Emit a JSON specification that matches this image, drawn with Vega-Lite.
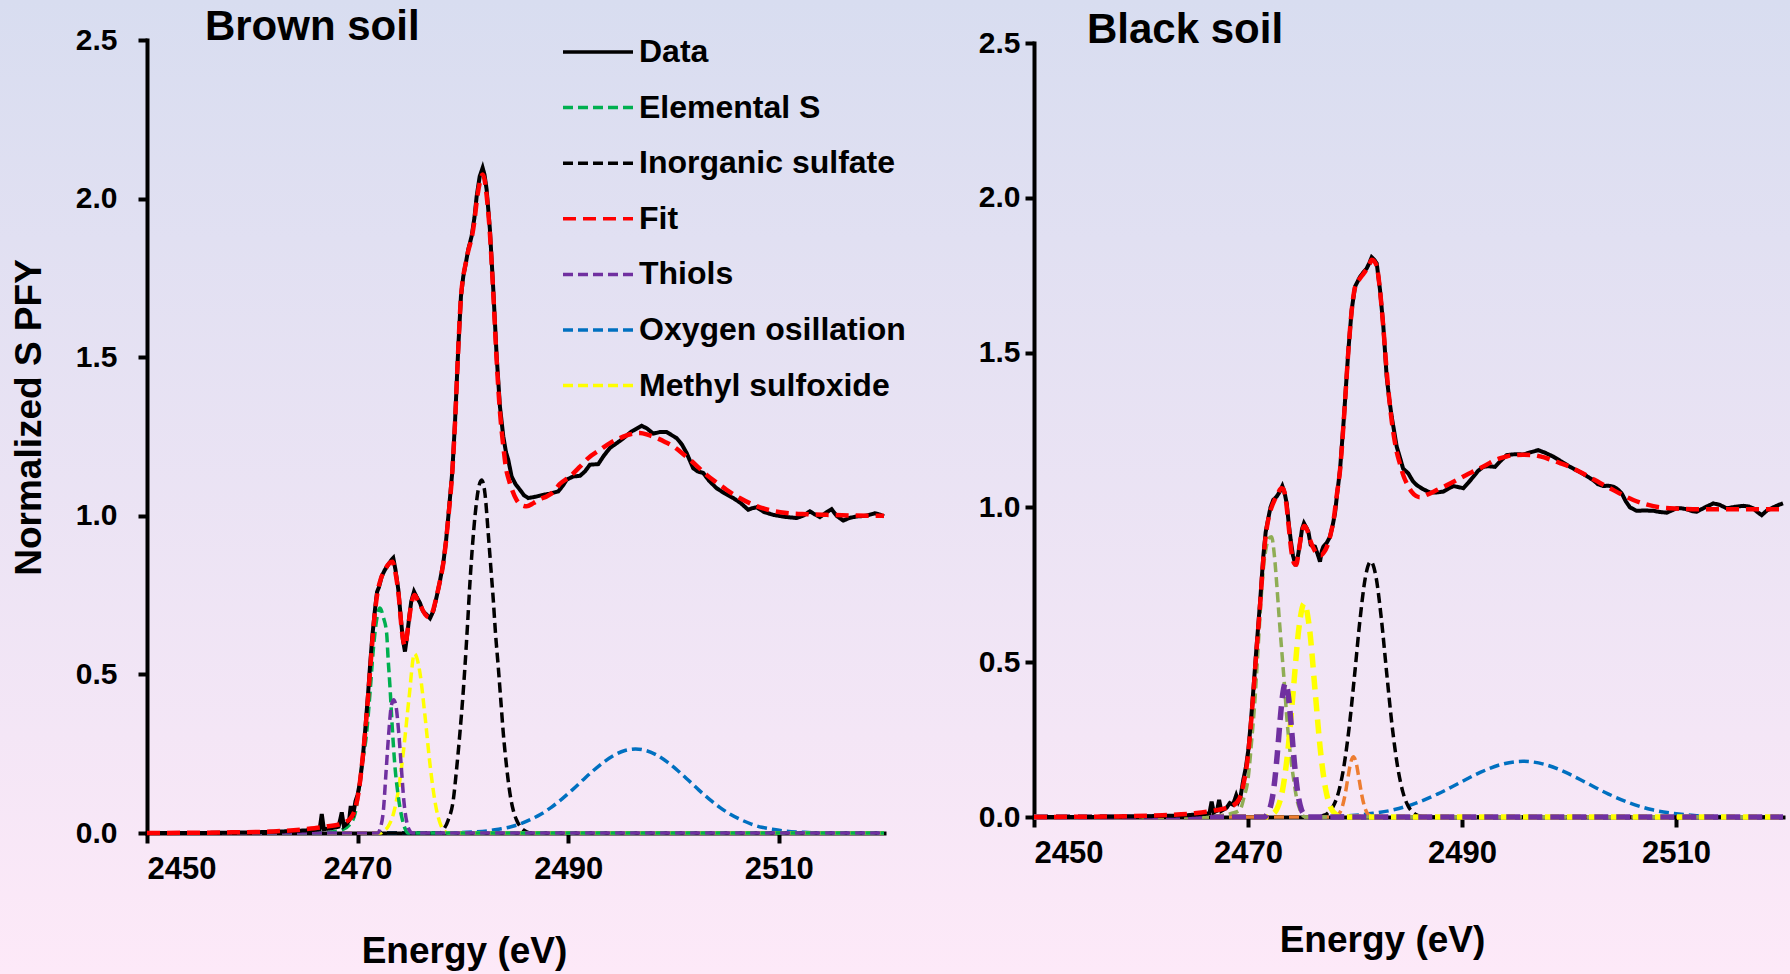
{
  "$schema": "https://vega.github.io/schema/vega-lite/v6.json",
  "width": 1790,
  "height": 974,
  "autosize": {"type": "none"},
  "padding": 0,
  "background": "#ebe3f4",
  "view": {
    "stroke": null,
    "fill": {"gradient": "linear", "x1": 0, "y1": 0, "x2": 0, "y2": 1,
      "stops": [{"offset": 0, "color": "#d8ddf0"}, {"offset": 1, "color": "#fde9f8"}]}
  },
  "config": {
    "font": "Liberation Sans",
    "axis": {
      "grid": false, "domainColor": "#000000", "domainWidth": 4, "domainCap": "square",
      "tickColor": "#000000", "tickWidth": 4, "labelColor": "#000000", "labelFontWeight": "bold",
      "titleColor": "#000000", "titleFontWeight": "bold", "titleFontSize": 37, "labelFont": "Liberation Sans", "titleFont": "Liberation Sans"
    },
    "text": {"font": "Liberation Sans"}
  },
  "datasets": {
    "brown": [
      {"s":"Data","e":2450,"v":0},{"s":"Data","e":2455,"v":0},{"s":"Data","e":2460,"v":0.002},{"s":"Data","e":2463,"v":0.005},{"s":"Data","e":2465,"v":0.008},{"s":"Data","e":2466,"v":0.01},{"s":"Data","e":2466.4,"v":0.012},{"s":"Data","e":2466.6,"v":0.06},{"s":"Data","e":2466.8,"v":0.012},{"s":"Data","e":2467.5,"v":0.015},{"s":"Data","e":2468.2,"v":0.02},{"s":"Data","e":2468.5,"v":0.065},{"s":"Data","e":2468.7,"v":0.022},{"s":"Data","e":2469.0,"v":0.03},{"s":"Data","e":2469.2,"v":0.04},{"s":"Data","e":2469.35,"v":0.085},{"s":"Data","e":2469.55,"v":0.05},{"s":"Data","e":2469.8,"v":0.1},{"s":"Data","e":2470.0,"v":0.12},{"s":"Data","e":2470.23,"v":0.16},{"s":"Data","e":2470.5,"v":0.24},{"s":"Data","e":2470.7,"v":0.314},{"s":"Data","e":2471.0,"v":0.44},{"s":"Data","e":2471.18,"v":0.525},{"s":"Data","e":2471.4,"v":0.62},{"s":"Data","e":2471.65,"v":0.703},{"s":"Data","e":2471.85,"v":0.76},{"s":"Data","e":2472.03,"v":0.775},{"s":"Data","e":2472.3,"v":0.81},{"s":"Data","e":2472.6,"v":0.83},{"s":"Data","e":2472.9,"v":0.845},{"s":"Data","e":2473.2,"v":0.86},{"s":"Data","e":2473.39,"v":0.867},{"s":"Data","e":2473.6,"v":0.83},{"s":"Data","e":2473.87,"v":0.767},{"s":"Data","e":2474.1,"v":0.68},{"s":"Data","e":2474.3,"v":0.61},{"s":"Data","e":2474.5,"v":0.572},{"s":"Data","e":2474.7,"v":0.62},{"s":"Data","e":2474.91,"v":0.682},{"s":"Data","e":2475.1,"v":0.73},{"s":"Data","e":2475.36,"v":0.761},{"s":"Data","e":2475.6,"v":0.745},{"s":"Data","e":2475.93,"v":0.725},{"s":"Data","e":2476.2,"v":0.7},{"s":"Data","e":2476.56,"v":0.688},{"s":"Data","e":2476.88,"v":0.677},{"s":"Data","e":2477.2,"v":0.7},{"s":"Data","e":2477.51,"v":0.745},{"s":"Data","e":2477.8,"v":0.79},{"s":"Data","e":2478.14,"v":0.851},{"s":"Data","e":2478.4,"v":0.92},{"s":"Data","e":2478.62,"v":0.998},{"s":"Data","e":2479.0,"v":1.14},{"s":"Data","e":2479.25,"v":1.292},{"s":"Data","e":2479.57,"v":1.534},{"s":"Data","e":2479.82,"v":1.692},{"s":"Data","e":2480.04,"v":1.755},{"s":"Data","e":2480.3,"v":1.8},{"s":"Data","e":2480.51,"v":1.839},{"s":"Data","e":2480.83,"v":1.881},{"s":"Data","e":2481.1,"v":1.94},{"s":"Data","e":2481.31,"v":2.007},{"s":"Data","e":2481.6,"v":2.07},{"s":"Data","e":2481.88,"v":2.097},{"s":"Data","e":2482.06,"v":2.075},{"s":"Data","e":2482.26,"v":2.028},{"s":"Data","e":2482.57,"v":1.902},{"s":"Data","e":2482.89,"v":1.713},{"s":"Data","e":2483.21,"v":1.503},{"s":"Data","e":2483.52,"v":1.345},{"s":"Data","e":2483.84,"v":1.25},{"s":"Data","e":2484.1,"v":1.2},{"s":"Data","e":2484.31,"v":1.177},{"s":"Data","e":2484.63,"v":1.124},{"s":"Data","e":2485.0,"v":1.1},{"s":"Data","e":2485.42,"v":1.082},{"s":"Data","e":2485.8,"v":1.065},{"s":"Data","e":2486.21,"v":1.056},{"s":"Data","e":2486.9,"v":1.06},{"s":"Data","e":2487.63,"v":1.066},{"s":"Data","e":2488.3,"v":1.07},{"s":"Data","e":2489.06,"v":1.077},{"s":"Data","e":2489.5,"v":1.095},{"s":"Data","e":2489.86,"v":1.114},{"s":"Data","e":2490.49,"v":1.124},{"s":"Data","e":2491.12,"v":1.126},{"s":"Data","e":2491.6,"v":1.14},{"s":"Data","e":2492.07,"v":1.161},{"s":"Data","e":2492.86,"v":1.163},{"s":"Data","e":2493.4,"v":1.19},{"s":"Data","e":2493.97,"v":1.214},{"s":"Data","e":2495.08,"v":1.24},{"s":"Data","e":2496.03,"v":1.266},{"s":"Data","e":2496.98,"v":1.284},{"s":"Data","e":2497.5,"v":1.275},{"s":"Data","e":2498.08,"v":1.259},{"s":"Data","e":2498.7,"v":1.264},{"s":"Data","e":2499.35,"v":1.264},{"s":"Data","e":2500.3,"v":1.245},{"s":"Data","e":2500.8,"v":1.225},{"s":"Data","e":2501.25,"v":1.198},{"s":"Data","e":2501.88,"v":1.15},{"s":"Data","e":2502.3,"v":1.14},{"s":"Data","e":2502.83,"v":1.135},{"s":"Data","e":2503.4,"v":1.11},{"s":"Data","e":2504.1,"v":1.087},{"s":"Data","e":2504.9,"v":1.07},{"s":"Data","e":2505.68,"v":1.056},{"s":"Data","e":2506.4,"v":1.04},{"s":"Data","e":2507.1,"v":1.019},{"s":"Data","e":2507.5,"v":1.024},{"s":"Data","e":2507.9,"v":1.027},{"s":"Data","e":2508.6,"v":1.012},{"s":"Data","e":2509.48,"v":1.003},{"s":"Data","e":2510.5,"v":0.997},{"s":"Data","e":2511.7,"v":0.993},{"s":"Data","e":2512.3,"v":1.0},{"s":"Data","e":2512.96,"v":1.014},{"s":"Data","e":2513.4,"v":1.005},{"s":"Data","e":2513.91,"v":0.996},{"s":"Data","e":2514.5,"v":1.01},{"s":"Data","e":2515.02,"v":1.021},{"s":"Data","e":2515.5,"v":1.0},{"s":"Data","e":2516.13,"v":0.985},{"s":"Data","e":2516.7,"v":0.993},{"s":"Data","e":2517.4,"v":0.998},{"s":"Data","e":2518.3,"v":1.0},{"s":"Data","e":2519.13,"v":1.008},{"s":"Data","e":2519.6,"v":1.004},{"s":"Data","e":2520,"v":0.998},

      {"s":"Fit","e":2450,"v":0},{"s":"Fit","e":2458,"v":0.002},{"s":"Fit","e":2462,"v":0.005},{"s":"Fit","e":2465,"v":0.012},{"s":"Fit","e":2467,"v":0.02},{"s":"Fit","e":2468.5,"v":0.03},{"s":"Fit","e":2469.3,"v":0.045},{"s":"Fit","e":2469.8,"v":0.08},{"s":"Fit","e":2470.1,"v":0.13},{"s":"Fit","e":2470.4,"v":0.21},{"s":"Fit","e":2470.7,"v":0.31},{"s":"Fit","e":2471.0,"v":0.43},{"s":"Fit","e":2471.3,"v":0.56},{"s":"Fit","e":2471.6,"v":0.68},{"s":"Fit","e":2471.9,"v":0.76},{"s":"Fit","e":2472.2,"v":0.8},{"s":"Fit","e":2472.6,"v":0.83},{"s":"Fit","e":2473.0,"v":0.85},{"s":"Fit","e":2473.3,"v":0.855},{"s":"Fit","e":2473.6,"v":0.82},{"s":"Fit","e":2473.9,"v":0.75},{"s":"Fit","e":2474.2,"v":0.64},{"s":"Fit","e":2474.5,"v":0.59},{"s":"Fit","e":2474.8,"v":0.65},{"s":"Fit","e":2475.1,"v":0.72},{"s":"Fit","e":2475.4,"v":0.75},{"s":"Fit","e":2475.7,"v":0.735},{"s":"Fit","e":2476.0,"v":0.715},{"s":"Fit","e":2476.4,"v":0.69},{"s":"Fit","e":2476.8,"v":0.68},{"s":"Fit","e":2477.2,"v":0.705},{"s":"Fit","e":2477.5,"v":0.745},{"s":"Fit","e":2477.8,"v":0.79},{"s":"Fit","e":2478.14,"v":0.85},{"s":"Fit","e":2478.4,"v":0.92},{"s":"Fit","e":2478.62,"v":0.995},{"s":"Fit","e":2479.0,"v":1.14},{"s":"Fit","e":2479.25,"v":1.29},{"s":"Fit","e":2479.57,"v":1.53},{"s":"Fit","e":2479.82,"v":1.69},{"s":"Fit","e":2480.04,"v":1.755},{"s":"Fit","e":2480.3,"v":1.8},{"s":"Fit","e":2480.51,"v":1.835},{"s":"Fit","e":2480.83,"v":1.875},{"s":"Fit","e":2481.1,"v":1.93},{"s":"Fit","e":2481.31,"v":1.99},{"s":"Fit","e":2481.6,"v":2.05},{"s":"Fit","e":2481.88,"v":2.076},{"s":"Fit","e":2482.06,"v":2.06},{"s":"Fit","e":2482.26,"v":2.01},{"s":"Fit","e":2482.57,"v":1.89},{"s":"Fit","e":2482.89,"v":1.7},{"s":"Fit","e":2483.21,"v":1.49},{"s":"Fit","e":2483.52,"v":1.33},{"s":"Fit","e":2483.84,"v":1.22},{"s":"Fit","e":2484.1,"v":1.15},{"s":"Fit","e":2484.4,"v":1.11},{"s":"Fit","e":2484.7,"v":1.08},{"s":"Fit","e":2485.1,"v":1.05},{"s":"Fit","e":2485.5,"v":1.035},{"s":"Fit","e":2486.06,"v":1.03},{"s":"Fit","e":2486.7,"v":1.04},{"s":"Fit","e":2487.3,"v":1.052},{"s":"Fit","e":2487.96,"v":1.061},{"s":"Fit","e":2488.6,"v":1.075},{"s":"Fit","e":2489.2,"v":1.1},{"s":"Fit","e":2490.17,"v":1.124},{"s":"Fit","e":2491.12,"v":1.155},{"s":"Fit","e":2491.91,"v":1.182},{"s":"Fit","e":2493.02,"v":1.208},{"s":"Fit","e":2494.0,"v":1.23},{"s":"Fit","e":2494.92,"v":1.245},{"s":"Fit","e":2495.9,"v":1.257},{"s":"Fit","e":2496.82,"v":1.261},{"s":"Fit","e":2497.6,"v":1.255},{"s":"Fit","e":2498.41,"v":1.245},{"s":"Fit","e":2499.2,"v":1.233},{"s":"Fit","e":2499.98,"v":1.219},{"s":"Fit","e":2500.8,"v":1.198},{"s":"Fit","e":2501.57,"v":1.177},{"s":"Fit","e":2502.4,"v":1.152},{"s":"Fit","e":2503.15,"v":1.129},{"s":"Fit","e":2504.1,"v":1.105},{"s":"Fit","e":2505.05,"v":1.082},{"s":"Fit","e":2506.3,"v":1.056},{"s":"Fit","e":2507.58,"v":1.035},{"s":"Fit","e":2509.1,"v":1.018},{"s":"Fit","e":2510.75,"v":1.009},{"s":"Fit","e":2512.6,"v":1.005},{"s":"Fit","e":2514.55,"v":1.003},{"s":"Fit","e":2517,"v":1.001},{"s":"Fit","e":2520,"v":1.0},

      {"s":"Oxygen osillation","e":2450,"v":0},{"s":"Oxygen osillation","e":2478,"v":0},{"s":"Oxygen osillation","e":2480.4,"v":0.002},{"s":"Oxygen osillation","e":2482.4,"v":0.007},{"s":"Oxygen osillation","e":2483.4,"v":0.012},{"s":"Oxygen osillation","e":2484.4,"v":0.018},{"s":"Oxygen osillation","e":2485.4,"v":0.028},{"s":"Oxygen osillation","e":2486.4,"v":0.042},{"s":"Oxygen osillation","e":2487.4,"v":0.059},{"s":"Oxygen osillation","e":2488.4,"v":0.081},{"s":"Oxygen osillation","e":2489.4,"v":0.107},{"s":"Oxygen osillation","e":2490.4,"v":0.136},{"s":"Oxygen osillation","e":2491.4,"v":0.167},{"s":"Oxygen osillation","e":2492.4,"v":0.197},{"s":"Oxygen osillation","e":2493.4,"v":0.224},{"s":"Oxygen osillation","e":2494.4,"v":0.246},{"s":"Oxygen osillation","e":2495.4,"v":0.26},{"s":"Oxygen osillation","e":2496.4,"v":0.265},{"s":"Oxygen osillation","e":2497.4,"v":0.26},{"s":"Oxygen osillation","e":2498.4,"v":0.246},{"s":"Oxygen osillation","e":2499.4,"v":0.224},{"s":"Oxygen osillation","e":2500.4,"v":0.197},{"s":"Oxygen osillation","e":2501.4,"v":0.167},{"s":"Oxygen osillation","e":2502.4,"v":0.136},{"s":"Oxygen osillation","e":2503.4,"v":0.107},{"s":"Oxygen osillation","e":2504.4,"v":0.081},{"s":"Oxygen osillation","e":2505.4,"v":0.059},{"s":"Oxygen osillation","e":2506.4,"v":0.042},{"s":"Oxygen osillation","e":2507.4,"v":0.028},{"s":"Oxygen osillation","e":2508.4,"v":0.018},{"s":"Oxygen osillation","e":2509.4,"v":0.012},{"s":"Oxygen osillation","e":2510.4,"v":0.007},{"s":"Oxygen osillation","e":2512.4,"v":0.002},{"s":"Oxygen osillation","e":2514.5,"v":0},{"s":"Oxygen osillation","e":2520,"v":0},

      {"s":"Inorganic sulfate","e":2450,"v":0},{"s":"Inorganic sulfate","e":2477.8,"v":0},{"s":"Inorganic sulfate","e":2478.14,"v":0.01},{"s":"Inorganic sulfate","e":2478.6,"v":0.04},{"s":"Inorganic sulfate","e":2479.09,"v":0.104},{"s":"Inorganic sulfate","e":2479.4,"v":0.2},{"s":"Inorganic sulfate","e":2479.72,"v":0.315},{"s":"Inorganic sulfate","e":2480.0,"v":0.43},{"s":"Inorganic sulfate","e":2480.2,"v":0.525},{"s":"Inorganic sulfate","e":2480.45,"v":0.66},{"s":"Inorganic sulfate","e":2480.67,"v":0.788},{"s":"Inorganic sulfate","e":2480.9,"v":0.9},{"s":"Inorganic sulfate","e":2481.15,"v":0.998},{"s":"Inorganic sulfate","e":2481.45,"v":1.08},{"s":"Inorganic sulfate","e":2481.78,"v":1.113},{"s":"Inorganic sulfate","e":2482.1,"v":1.07},{"s":"Inorganic sulfate","e":2482.41,"v":0.945},{"s":"Inorganic sulfate","e":2482.65,"v":0.84},{"s":"Inorganic sulfate","e":2482.89,"v":0.735},{"s":"Inorganic sulfate","e":2483.1,"v":0.63},{"s":"Inorganic sulfate","e":2483.36,"v":0.525},{"s":"Inorganic sulfate","e":2483.6,"v":0.42},{"s":"Inorganic sulfate","e":2483.84,"v":0.315},{"s":"Inorganic sulfate","e":2484.15,"v":0.21},{"s":"Inorganic sulfate","e":2484.47,"v":0.125},{"s":"Inorganic sulfate","e":2484.8,"v":0.07},{"s":"Inorganic sulfate","e":2485.1,"v":0.041},{"s":"Inorganic sulfate","e":2485.5,"v":0.018},{"s":"Inorganic sulfate","e":2486,"v":0.005},{"s":"Inorganic sulfate","e":2486.5,"v":0},{"s":"Inorganic sulfate","e":2520,"v":0},

      {"s":"Methyl sulfoxide","e":2450,"v":0},{"s":"Methyl sulfoxide","e":2472.2,"v":0},{"s":"Methyl sulfoxide","e":2472.4,"v":0.005},{"s":"Methyl sulfoxide","e":2472.9,"v":0.02},{"s":"Methyl sulfoxide","e":2473.4,"v":0.06},{"s":"Methyl sulfoxide","e":2473.9,"v":0.14},{"s":"Methyl sulfoxide","e":2474.4,"v":0.27},{"s":"Methyl sulfoxide","e":2474.9,"v":0.43},{"s":"Methyl sulfoxide","e":2475.4,"v":0.565},{"s":"Methyl sulfoxide","e":2475.9,"v":0.51},{"s":"Methyl sulfoxide","e":2476.4,"v":0.37},{"s":"Methyl sulfoxide","e":2476.9,"v":0.21},{"s":"Methyl sulfoxide","e":2477.4,"v":0.09},{"s":"Methyl sulfoxide","e":2477.9,"v":0.025},{"s":"Methyl sulfoxide","e":2478.3,"v":0.005},{"s":"Methyl sulfoxide","e":2478.6,"v":0},{"s":"Methyl sulfoxide","e":2520,"v":0},

      {"s":"Elemental S","e":2450,"v":0},{"s":"Elemental S","e":2466,"v":0},{"s":"Elemental S","e":2467.5,"v":0.003},{"s":"Elemental S","e":2468.5,"v":0.01},{"s":"Elemental S","e":2469.2,"v":0.025},{"s":"Elemental S","e":2469.75,"v":0.06},{"s":"Elemental S","e":2470.1,"v":0.13},{"s":"Elemental S","e":2470.4,"v":0.21},{"s":"Elemental S","e":2470.86,"v":0.315},{"s":"Elemental S","e":2471.2,"v":0.45},{"s":"Elemental S","e":2471.5,"v":0.58},{"s":"Elemental S","e":2471.8,"v":0.67},{"s":"Elemental S","e":2472.13,"v":0.709},{"s":"Elemental S","e":2472.45,"v":0.68},{"s":"Elemental S","e":2472.76,"v":0.63},{"s":"Elemental S","e":2472.9,"v":0.55},{"s":"Elemental S","e":2473.08,"v":0.46},{"s":"Elemental S","e":2473.3,"v":0.33},{"s":"Elemental S","e":2473.55,"v":0.21},{"s":"Elemental S","e":2473.85,"v":0.12},{"s":"Elemental S","e":2474.2,"v":0.05},{"s":"Elemental S","e":2474.5,"v":0.015},{"s":"Elemental S","e":2474.8,"v":0},{"s":"Elemental S","e":2520,"v":0},

      {"s":"Thiols","e":2450,"v":0},{"s":"Thiols","e":2471.9,"v":0},{"s":"Thiols","e":2472.2,"v":0.02},{"s":"Thiols","e":2472.45,"v":0.07},{"s":"Thiols","e":2472.7,"v":0.19},{"s":"Thiols","e":2472.95,"v":0.31},{"s":"Thiols","e":2473.2,"v":0.4},{"s":"Thiols","e":2473.42,"v":0.42},{"s":"Thiols","e":2473.65,"v":0.4},{"s":"Thiols","e":2473.9,"v":0.32},{"s":"Thiols","e":2474.15,"v":0.21},{"s":"Thiols","e":2474.4,"v":0.1},{"s":"Thiols","e":2474.7,"v":0.03},{"s":"Thiols","e":2475.0,"v":0.005},{"s":"Thiols","e":2475.2,"v":0},{"s":"Thiols","e":2520,"v":0}
    ],
    "black": [
      {"s":"Data","e":2450,"v":0},{"s":"Data","e":2455,"v":0},{"s":"Data","e":2460,"v":0.002},{"s":"Data","e":2464,"v":0.005},{"s":"Data","e":2466,"v":0.01},{"s":"Data","e":2466.4,"v":0.012},{"s":"Data","e":2466.6,"v":0.05},{"s":"Data","e":2466.8,"v":0.015},{"s":"Data","e":2467.1,"v":0.02},{"s":"Data","e":2467.3,"v":0.055},{"s":"Data","e":2467.5,"v":0.02},{"s":"Data","e":2468.0,"v":0.03},{"s":"Data","e":2468.3,"v":0.045},{"s":"Data","e":2468.6,"v":0.04},{"s":"Data","e":2468.9,"v":0.07},{"s":"Data","e":2469.1,"v":0.05},{"s":"Data","e":2469.3,"v":0.065},{"s":"Data","e":2469.56,"v":0.12},{"s":"Data","e":2469.8,"v":0.16},{"s":"Data","e":2470.03,"v":0.216},{"s":"Data","e":2470.25,"v":0.3},{"s":"Data","e":2470.5,"v":0.41},{"s":"Data","e":2470.8,"v":0.55},{"s":"Data","e":2471.12,"v":0.69},{"s":"Data","e":2471.43,"v":0.841},{"s":"Data","e":2471.65,"v":0.92},{"s":"Data","e":2471.9,"v":0.965},{"s":"Data","e":2472.1,"v":1.0},{"s":"Data","e":2472.36,"v":1.024},{"s":"Data","e":2472.68,"v":1.035},{"s":"Data","e":2472.95,"v":1.05},{"s":"Data","e":2473.21,"v":1.069},{"s":"Data","e":2473.4,"v":1.05},{"s":"Data","e":2473.62,"v":1.013},{"s":"Data","e":2473.8,"v":0.95},{"s":"Data","e":2473.99,"v":0.895},{"s":"Data","e":2474.2,"v":0.845},{"s":"Data","e":2474.46,"v":0.811},{"s":"Data","e":2474.65,"v":0.84},{"s":"Data","e":2474.86,"v":0.884},{"s":"Data","e":2475.05,"v":0.93},{"s":"Data","e":2475.23,"v":0.949},{"s":"Data","e":2475.45,"v":0.935},{"s":"Data","e":2475.64,"v":0.922},{"s":"Data","e":2475.86,"v":0.879},{"s":"Data","e":2476.05,"v":0.875},{"s":"Data","e":2476.26,"v":0.873},{"s":"Data","e":2476.5,"v":0.85},{"s":"Data","e":2476.73,"v":0.825},{"s":"Data","e":2476.9,"v":0.86},{"s":"Data","e":2477.04,"v":0.873},{"s":"Data","e":2477.35,"v":0.885},{"s":"Data","e":2477.66,"v":0.905},{"s":"Data","e":2477.9,"v":0.94},{"s":"Data","e":2478.13,"v":0.981},{"s":"Data","e":2478.35,"v":1.05},{"s":"Data","e":2478.6,"v":1.121},{"s":"Data","e":2478.97,"v":1.293},{"s":"Data","e":2479.38,"v":1.508},{"s":"Data","e":2479.69,"v":1.638},{"s":"Data","e":2480.0,"v":1.713},{"s":"Data","e":2480.47,"v":1.745},{"s":"Data","e":2480.8,"v":1.76},{"s":"Data","e":2481.09,"v":1.772},{"s":"Data","e":2481.35,"v":1.79},{"s":"Data","e":2481.56,"v":1.808},{"s":"Data","e":2481.8,"v":1.8},{"s":"Data","e":2482.03,"v":1.788},{"s":"Data","e":2482.34,"v":1.702},{"s":"Data","e":2482.65,"v":1.584},{"s":"Data","e":2482.96,"v":1.422},{"s":"Data","e":2483.2,"v":1.35},{"s":"Data","e":2483.43,"v":1.293},{"s":"Data","e":2483.9,"v":1.196},{"s":"Data","e":2484.21,"v":1.16},{"s":"Data","e":2484.5,"v":1.125},{"s":"Data","e":2484.98,"v":1.11},{"s":"Data","e":2485.4,"v":1.085},{"s":"Data","e":2485.77,"v":1.072},{"s":"Data","e":2486.3,"v":1.06},{"s":"Data","e":2487.01,"v":1.048},{"s":"Data","e":2487.6,"v":1.048},{"s":"Data","e":2488.26,"v":1.051},{"s":"Data","e":2488.7,"v":1.06},{"s":"Data","e":2489.19,"v":1.069},{"s":"Data","e":2489.6,"v":1.066},{"s":"Data","e":2490.12,"v":1.062},{"s":"Data","e":2490.6,"v":1.08},{"s":"Data","e":2491.06,"v":1.099},{"s":"Data","e":2491.5,"v":1.118},{"s":"Data","e":2491.99,"v":1.131},{"s":"Data","e":2492.5,"v":1.133},{"s":"Data","e":2493.08,"v":1.131},{"s":"Data","e":2493.6,"v":1.15},{"s":"Data","e":2494.18,"v":1.169},{"s":"Data","e":2495.0,"v":1.172},{"s":"Data","e":2495.73,"v":1.171},{"s":"Data","e":2496.4,"v":1.178},{"s":"Data","e":2497.13,"v":1.185},{"s":"Data","e":2497.8,"v":1.176},{"s":"Data","e":2498.53,"v":1.164},{"s":"Data","e":2499.3,"v":1.148},{"s":"Data","e":2500.09,"v":1.131},{"s":"Data","e":2500.7,"v":1.12},{"s":"Data","e":2501.34,"v":1.108},{"s":"Data","e":2501.8,"v":1.098},{"s":"Data","e":2502.27,"v":1.088},{"s":"Data","e":2502.7,"v":1.075},{"s":"Data","e":2503.21,"v":1.069},{"s":"Data","e":2503.7,"v":1.07},{"s":"Data","e":2504.14,"v":1.067},{"s":"Data","e":2504.5,"v":1.06},{"s":"Data","e":2504.92,"v":1.046},{"s":"Data","e":2505.3,"v":1.02},{"s":"Data","e":2505.7,"v":1.0},{"s":"Data","e":2506.32,"v":0.989},{"s":"Data","e":2507.1,"v":0.99},{"s":"Data","e":2507.88,"v":0.989},{"s":"Data","e":2508.5,"v":0.985},{"s":"Data","e":2509.13,"v":0.983},{"s":"Data","e":2509.6,"v":0.99},{"s":"Data","e":2510.06,"v":0.997},{"s":"Data","e":2510.5,"v":0.997},{"s":"Data","e":2511.0,"v":0.994},{"s":"Data","e":2511.5,"v":0.988},{"s":"Data","e":2511.93,"v":0.986},{"s":"Data","e":2512.7,"v":1.0},{"s":"Data","e":2513.49,"v":1.013},{"s":"Data","e":2514.1,"v":1.008},{"s":"Data","e":2514.74,"v":0.997},{"s":"Data","e":2515.5,"v":1.002},{"s":"Data","e":2516.29,"v":1.005},{"s":"Data","e":2516.8,"v":1.003},{"s":"Data","e":2517.22,"v":0.997},{"s":"Data","e":2517.6,"v":0.985},{"s":"Data","e":2518.01,"v":0.975},{"s":"Data","e":2518.5,"v":0.99},{"s":"Data","e":2519.09,"v":1.0},{"s":"Data","e":2519.6,"v":1.008},{"s":"Data","e":2520,"v":1.013},

      {"s":"Fit","e":2450,"v":0},{"s":"Fit","e":2458,"v":0.002},{"s":"Fit","e":2462,"v":0.006},{"s":"Fit","e":2465,"v":0.012},{"s":"Fit","e":2467,"v":0.022},{"s":"Fit","e":2468.5,"v":0.035},{"s":"Fit","e":2469.2,"v":0.06},{"s":"Fit","e":2469.6,"v":0.11},{"s":"Fit","e":2469.9,"v":0.17},{"s":"Fit","e":2470.2,"v":0.27},{"s":"Fit","e":2470.5,"v":0.4},{"s":"Fit","e":2470.8,"v":0.54},{"s":"Fit","e":2471.12,"v":0.68},{"s":"Fit","e":2471.43,"v":0.83},{"s":"Fit","e":2471.7,"v":0.92},{"s":"Fit","e":2471.95,"v":0.97},{"s":"Fit","e":2472.2,"v":1.0},{"s":"Fit","e":2472.5,"v":1.025},{"s":"Fit","e":2472.8,"v":1.045},{"s":"Fit","e":2473.1,"v":1.062},{"s":"Fit","e":2473.3,"v":1.06},{"s":"Fit","e":2473.55,"v":1.02},{"s":"Fit","e":2473.8,"v":0.94},{"s":"Fit","e":2474.05,"v":0.86},{"s":"Fit","e":2474.3,"v":0.82},{"s":"Fit","e":2474.5,"v":0.815},{"s":"Fit","e":2474.75,"v":0.86},{"s":"Fit","e":2475.0,"v":0.915},{"s":"Fit","e":2475.25,"v":0.94},{"s":"Fit","e":2475.5,"v":0.93},{"s":"Fit","e":2475.8,"v":0.895},{"s":"Fit","e":2476.1,"v":0.87},{"s":"Fit","e":2476.45,"v":0.85},{"s":"Fit","e":2476.8,"v":0.845},{"s":"Fit","e":2477.1,"v":0.855},{"s":"Fit","e":2477.4,"v":0.875},{"s":"Fit","e":2477.7,"v":0.91},{"s":"Fit","e":2478.0,"v":0.96},{"s":"Fit","e":2478.3,"v":1.04},{"s":"Fit","e":2478.6,"v":1.12},{"s":"Fit","e":2478.97,"v":1.29},{"s":"Fit","e":2479.38,"v":1.505},{"s":"Fit","e":2479.69,"v":1.635},{"s":"Fit","e":2480.0,"v":1.71},{"s":"Fit","e":2480.47,"v":1.74},{"s":"Fit","e":2480.8,"v":1.755},{"s":"Fit","e":2481.09,"v":1.77},{"s":"Fit","e":2481.35,"v":1.785},{"s":"Fit","e":2481.56,"v":1.8},{"s":"Fit","e":2481.8,"v":1.795},{"s":"Fit","e":2482.03,"v":1.78},{"s":"Fit","e":2482.34,"v":1.7},{"s":"Fit","e":2482.65,"v":1.58},{"s":"Fit","e":2482.96,"v":1.44},{"s":"Fit","e":2483.2,"v":1.35},{"s":"Fit","e":2483.43,"v":1.28},{"s":"Fit","e":2483.9,"v":1.18},{"s":"Fit","e":2484.21,"v":1.14},{"s":"Fit","e":2484.5,"v":1.105},{"s":"Fit","e":2484.83,"v":1.078},{"s":"Fit","e":2485.3,"v":1.05},{"s":"Fit","e":2485.7,"v":1.037},{"s":"Fit","e":2486.07,"v":1.033},{"s":"Fit","e":2486.8,"v":1.042},{"s":"Fit","e":2487.63,"v":1.056},{"s":"Fit","e":2488.6,"v":1.072},{"s":"Fit","e":2489.5,"v":1.088},{"s":"Fit","e":2490.4,"v":1.105},{"s":"Fit","e":2491.37,"v":1.121},{"s":"Fit","e":2492.3,"v":1.138},{"s":"Fit","e":2493.24,"v":1.155},{"s":"Fit","e":2494.0,"v":1.163},{"s":"Fit","e":2494.8,"v":1.169},{"s":"Fit","e":2495.7,"v":1.17},{"s":"Fit","e":2496.67,"v":1.169},{"s":"Fit","e":2497.5,"v":1.163},{"s":"Fit","e":2498.22,"v":1.155},{"s":"Fit","e":2499.1,"v":1.144},{"s":"Fit","e":2500.09,"v":1.131},{"s":"Fit","e":2501.0,"v":1.115},{"s":"Fit","e":2501.96,"v":1.097},{"s":"Fit","e":2502.9,"v":1.079},{"s":"Fit","e":2503.83,"v":1.062},{"s":"Fit","e":2504.9,"v":1.042},{"s":"Fit","e":2506.01,"v":1.024},{"s":"Fit","e":2507.2,"v":1.01},{"s":"Fit","e":2508.5,"v":1.0},{"s":"Fit","e":2510.3,"v":0.996},{"s":"Fit","e":2512.24,"v":0.994},{"s":"Fit","e":2516,"v":0.994},{"s":"Fit","e":2520,"v":0.994},

      {"s":"Oxygen osillation","e":2450,"v":0},{"s":"Oxygen osillation","e":2475.7,"v":0},{"s":"Oxygen osillation","e":2477.7,"v":0.002},{"s":"Oxygen osillation","e":2479.7,"v":0.005},{"s":"Oxygen osillation","e":2481.7,"v":0.012},{"s":"Oxygen osillation","e":2483.7,"v":0.024},{"s":"Oxygen osillation","e":2485.7,"v":0.045},{"s":"Oxygen osillation","e":2487.7,"v":0.074},{"s":"Oxygen osillation","e":2489.7,"v":0.109},{"s":"Oxygen osillation","e":2491.7,"v":0.144},{"s":"Oxygen osillation","e":2493.7,"v":0.17},{"s":"Oxygen osillation","e":2495.7,"v":0.18},{"s":"Oxygen osillation","e":2497.7,"v":0.17},{"s":"Oxygen osillation","e":2499.7,"v":0.144},{"s":"Oxygen osillation","e":2501.7,"v":0.109},{"s":"Oxygen osillation","e":2503.7,"v":0.074},{"s":"Oxygen osillation","e":2505.7,"v":0.045},{"s":"Oxygen osillation","e":2507.7,"v":0.024},{"s":"Oxygen osillation","e":2509.7,"v":0.012},{"s":"Oxygen osillation","e":2511.7,"v":0.005},{"s":"Oxygen osillation","e":2513.7,"v":0.002},{"s":"Oxygen osillation","e":2515.7,"v":0},{"s":"Oxygen osillation","e":2520,"v":0},

      {"s":"Inorganic sulfate","e":2450,"v":0},{"s":"Inorganic sulfate","e":2476.5,"v":0},{"s":"Inorganic sulfate","e":2476.97,"v":0.004},{"s":"Inorganic sulfate","e":2477.47,"v":0.013},{"s":"Inorganic sulfate","e":2477.97,"v":0.035},{"s":"Inorganic sulfate","e":2478.47,"v":0.081},{"s":"Inorganic sulfate","e":2478.97,"v":0.165},{"s":"Inorganic sulfate","e":2479.47,"v":0.294},{"s":"Inorganic sulfate","e":2479.97,"v":0.462},{"s":"Inorganic sulfate","e":2480.47,"v":0.638},{"s":"Inorganic sulfate","e":2480.97,"v":0.774},{"s":"Inorganic sulfate","e":2481.47,"v":0.825},{"s":"Inorganic sulfate","e":2481.97,"v":0.774},{"s":"Inorganic sulfate","e":2482.47,"v":0.638},{"s":"Inorganic sulfate","e":2482.97,"v":0.462},{"s":"Inorganic sulfate","e":2483.47,"v":0.294},{"s":"Inorganic sulfate","e":2483.97,"v":0.165},{"s":"Inorganic sulfate","e":2484.47,"v":0.081},{"s":"Inorganic sulfate","e":2484.97,"v":0.035},{"s":"Inorganic sulfate","e":2485.47,"v":0.013},{"s":"Inorganic sulfate","e":2485.97,"v":0.004},{"s":"Inorganic sulfate","e":2486.5,"v":0},{"s":"Inorganic sulfate","e":2520,"v":0},

      {"s":"Other","e":2450,"v":0},{"s":"Other","e":2478.2,"v":0},{"s":"Other","e":2478.35,"v":0.005},{"s":"Other","e":2478.6,"v":0.015},{"s":"Other","e":2478.85,"v":0.038},{"s":"Other","e":2479.1,"v":0.077},{"s":"Other","e":2479.35,"v":0.129},{"s":"Other","e":2479.6,"v":0.176},{"s":"Other","e":2479.85,"v":0.195},{"s":"Other","e":2480.1,"v":0.176},{"s":"Other","e":2480.35,"v":0.129},{"s":"Other","e":2480.6,"v":0.077},{"s":"Other","e":2480.85,"v":0.038},{"s":"Other","e":2481.1,"v":0.015},{"s":"Other","e":2481.35,"v":0.005},{"s":"Other","e":2481.6,"v":0},{"s":"Other","e":2520,"v":0},

      {"s":"Elemental S","e":2450,"v":0},{"s":"Elemental S","e":2466,"v":0},{"s":"Elemental S","e":2467.5,"v":0.005},{"s":"Elemental S","e":2468.5,"v":0.012},{"s":"Elemental S","e":2469.25,"v":0.023},{"s":"Elemental S","e":2469.6,"v":0.06},{"s":"Elemental S","e":2470.03,"v":0.13},{"s":"Elemental S","e":2470.35,"v":0.25},{"s":"Elemental S","e":2470.65,"v":0.378},{"s":"Elemental S","e":2470.9,"v":0.52},{"s":"Elemental S","e":2471.12,"v":0.647},{"s":"Elemental S","e":2471.43,"v":0.8},{"s":"Elemental S","e":2471.7,"v":0.87},{"s":"Elemental S","e":2471.95,"v":0.9},{"s":"Elemental S","e":2472.21,"v":0.905},{"s":"Elemental S","e":2472.45,"v":0.85},{"s":"Elemental S","e":2472.68,"v":0.755},{"s":"Elemental S","e":2472.9,"v":0.65},{"s":"Elemental S","e":2473.15,"v":0.539},{"s":"Elemental S","e":2473.4,"v":0.43},{"s":"Elemental S","e":2473.62,"v":0.324},{"s":"Elemental S","e":2473.9,"v":0.22},{"s":"Elemental S","e":2474.23,"v":0.13},{"s":"Elemental S","e":2474.55,"v":0.06},{"s":"Elemental S","e":2474.86,"v":0.023},{"s":"Elemental S","e":2475.1,"v":0.005},{"s":"Elemental S","e":2475.4,"v":0},{"s":"Elemental S","e":2520,"v":0},

      {"s":"Methyl sulfoxide","e":2450,"v":0},{"s":"Methyl sulfoxide","e":2472.0,"v":0},{"s":"Methyl sulfoxide","e":2472.25,"v":0.007},{"s":"Methyl sulfoxide","e":2472.75,"v":0.029},{"s":"Methyl sulfoxide","e":2473.25,"v":0.091},{"s":"Methyl sulfoxide","e":2473.75,"v":0.221},{"s":"Methyl sulfoxide","e":2474.25,"v":0.416},{"s":"Methyl sulfoxide","e":2474.75,"v":0.608},{"s":"Methyl sulfoxide","e":2475.25,"v":0.69},{"s":"Methyl sulfoxide","e":2475.75,"v":0.608},{"s":"Methyl sulfoxide","e":2476.25,"v":0.416},{"s":"Methyl sulfoxide","e":2476.75,"v":0.221},{"s":"Methyl sulfoxide","e":2477.25,"v":0.091},{"s":"Methyl sulfoxide","e":2477.75,"v":0.029},{"s":"Methyl sulfoxide","e":2478.25,"v":0.007},{"s":"Methyl sulfoxide","e":2478.6,"v":0},{"s":"Methyl sulfoxide","e":2520,"v":0},

      {"s":"Thiols","e":2450,"v":0},{"s":"Thiols","e":2471.6,"v":0},{"s":"Thiols","e":2471.75,"v":0.008},{"s":"Thiols","e":2472.0,"v":0.023},{"s":"Thiols","e":2472.25,"v":0.057},{"s":"Thiols","e":2472.5,"v":0.118},{"s":"Thiols","e":2472.75,"v":0.208},{"s":"Thiols","e":2473.0,"v":0.312},{"s":"Thiols","e":2473.25,"v":0.398},{"s":"Thiols","e":2473.5,"v":0.432},{"s":"Thiols","e":2473.75,"v":0.398},{"s":"Thiols","e":2474.0,"v":0.312},{"s":"Thiols","e":2474.25,"v":0.208},{"s":"Thiols","e":2474.5,"v":0.118},{"s":"Thiols","e":2474.75,"v":0.057},{"s":"Thiols","e":2475.0,"v":0.023},{"s":"Thiols","e":2475.25,"v":0.008},{"s":"Thiols","e":2475.5,"v":0},{"s":"Thiols","e":2520,"v":0}
    ]
  },
  "layer": [
    {
      "data": {"name": "brown"},
      "encoding": {
        "x": {"field": "e", "type": "quantitative",
          "scale": {"domain": [2450, 2520], "range": [147, 884], "nice": false, "zero": false},
          "axis": {"orient": "bottom", "offset": -141, "values": [2450, 2470, 2490, 2510], "format": "d",
            "labelFontSize": 31, "labelPadding": 11, "tickSize": 10,
            "title": "Energy (eV)", "titleX": 464, "titleY": 129, "titleAlign": "center", "titleBaseline": "alphabetic"}},
        "y": {"field": "v", "type": "quantitative",
          "scale": {"domain": [0, 2.5], "range": [833, 40], "nice": false},
          "axis": {"orient": "left", "offset": -147, "values": [0, 0.5, 1, 1.5, 2, 2.5], "format": ".1f",
            "labelFontSize": 30, "labelPadding": 21, "tickSize": 9,
            "title": "Normalized S PFY", "titleX": -107, "titleY": 417, "titleAngle": -90, "titleAlign": "center", "titleBaseline": "alphabetic"}}
      },
      "layer": [
        {
          "transform": [{"filter": "datum.s != 'Data' && datum.s != 'Fit'"}],
          "mark": {"type": "line", "strokeWidth": 3.5, "interpolate": "monotone"},
          "encoding": {
            "color": {"field": "s", "type": "nominal",
              "scale": {"domain": ["Data", "Elemental S", "Inorganic sulfate", "Fit", "Thiols", "Oxygen osillation", "Methyl sulfoxide"],
                "range": ["#000000", "#00b050", "#000000", "#ff0000", "#7030a0", "#0070c0", "#ffff00"]},
              "legend": {"orient": "none", "legendX": 561, "legendY": 15, "title": null, "symbolType": "stroke", "symbolSize": 4900,
                "symbolStrokeWidth": 3.5, "labelFontSize": 32, "labelFontWeight": "bold", "labelColor": "#000000", "labelFont": "Liberation Sans",
                "labelOffset": 4, "rowPadding": 2.6, "padding": 0, "labelLimit": 400}},
            "strokeDash": {"field": "s", "type": "nominal",
              "scale": {"domain": ["Data", "Elemental S", "Inorganic sulfate", "Fit", "Thiols", "Oxygen osillation", "Methyl sulfoxide"],
                "range": [[1, 0], [10, 5], [10, 5], [13, 7], [10, 5], [10, 5], [10, 5]]}}
          }
        },
        {
          "transform": [{"filter": "datum.s == 'Data'"}],
          "mark": {"type": "line", "strokeWidth": 4},
          "encoding": {"color": {"field": "s", "type": "nominal"}, "strokeDash": {"field": "s", "type": "nominal"}}
        },
        {
          "transform": [{"filter": "datum.s == 'Fit'"}],
          "mark": {"type": "line", "strokeWidth": 4.5, "interpolate": "monotone"},
          "encoding": {"color": {"field": "s", "type": "nominal"}, "strokeDash": {"field": "s", "type": "nominal"}}
        },
        {
          "transform": [{"filter": "datum.s == 'Data' && datum.e == 2450"}],
          "mark": {"type": "text", "fontSize": 42, "fontWeight": "bold", "align": "left", "baseline": "alphabetic", "fill": "#000000", "font": "Liberation Sans"},
          "encoding": {
            "x": {"datum": 2455.5, "type": "quantitative",
              "scale": {"domain": [2450, 2520], "range": [147, 884], "nice": false, "zero": false},
              "axis": {"orient": "bottom", "offset": -141, "values": [2450, 2470, 2490, 2510], "format": "d",
                "labelFontSize": 31, "labelPadding": 11, "tickSize": 10,
                "title": "Energy (eV)", "titleX": 464, "titleY": 129, "titleAlign": "center", "titleBaseline": "alphabetic"}},
            "y": {"datum": 2.5, "type": "quantitative",
              "scale": {"domain": [0, 2.5], "range": [833, 40], "nice": false},
              "axis": {"orient": "left", "offset": -147, "values": [0, 0.5, 1, 1.5, 2, 2.5], "format": ".1f",
                "labelFontSize": 30, "labelPadding": 21, "tickSize": 9,
                "title": "Normalized S PFY", "titleX": -107, "titleY": 417, "titleAngle": -90, "titleAlign": "center", "titleBaseline": "alphabetic"}},
            "text": {"value": "Brown soil"}
          }
        }
      ]
    },
    {
      "data": {"name": "black"},
      "encoding": {
        "x": {"field": "e", "type": "quantitative",
          "scale": {"domain": [2450, 2520], "range": [1034, 1783], "nice": false, "zero": false},
          "axis": {"orient": "bottom", "offset": -157, "values": [2450, 2470, 2490, 2510], "format": "d",
            "labelFontSize": 31, "labelPadding": 11, "tickSize": 10,
            "title": "Energy (eV)", "titleX": 1382, "titleY": 134, "titleAlign": "center", "titleBaseline": "alphabetic"}},
        "y": {"field": "v", "type": "quantitative",
          "scale": {"domain": [0, 2.5], "range": [817, 43], "nice": false},
          "axis": {"orient": "left", "offset": -1034, "values": [0, 0.5, 1, 1.5, 2, 2.5], "format": ".1f",
            "labelFontSize": 30, "labelPadding": 5, "tickSize": 9, "title": null}}
      },
      "layer": [
        {
          "transform": [{"filter": "datum.s != 'Data' && datum.s != 'Fit' && datum.s != 'Thiols' && datum.s != 'Methyl sulfoxide'"}],
          "mark": {"type": "line", "strokeWidth": 3.5, "interpolate": "monotone"},
          "encoding": {
            "color": {"field": "s", "type": "nominal",
              "scale": {"domain": ["Data", "Elemental S", "Inorganic sulfate", "Fit", "Thiols", "Oxygen osillation", "Methyl sulfoxide", "Other"],
                "range": ["#000000", "#8fad55", "#000000", "#ff0000", "#7030a0", "#0070c0", "#ffff00", "#ed7d31"]},
              "legend": null},
            "strokeDash": {"field": "s", "type": "nominal",
              "scale": {"domain": ["Data", "Elemental S", "Inorganic sulfate", "Fit", "Thiols", "Oxygen osillation", "Methyl sulfoxide", "Other"],
                "range": [[1, 0], [10, 5], [10, 5], [13, 7], [14, 8], [10, 5], [14, 8], [10, 5]]},
              "legend": null}
          }
        },
        {
          "transform": [{"filter": "datum.s == 'Methyl sulfoxide' || datum.s == 'Thiols'"}],
          "mark": {"type": "line", "strokeWidth": 5.5, "interpolate": "monotone"},
          "encoding": {"color": {"field": "s", "type": "nominal", "legend": null}, "strokeDash": {"field": "s", "type": "nominal", "legend": null}}
        },
        {
          "transform": [{"filter": "datum.s == 'Data'"}],
          "mark": {"type": "line", "strokeWidth": 4},
          "encoding": {"color": {"field": "s", "type": "nominal", "legend": null}, "strokeDash": {"field": "s", "type": "nominal", "legend": null}}
        },
        {
          "transform": [{"filter": "datum.s == 'Fit'"}],
          "mark": {"type": "line", "strokeWidth": 4.5, "interpolate": "monotone"},
          "encoding": {"color": {"field": "s", "type": "nominal", "legend": null}, "strokeDash": {"field": "s", "type": "nominal", "legend": null}}
        },
        {
          "transform": [{"filter": "datum.s == 'Data' && datum.e == 2450"}],
          "mark": {"type": "text", "fontSize": 42, "fontWeight": "bold", "align": "left", "baseline": "alphabetic", "fill": "#000000", "font": "Liberation Sans"},
          "encoding": {
            "x": {"datum": 2454.95, "type": "quantitative",
              "scale": {"domain": [2450, 2520], "range": [1034, 1783], "nice": false, "zero": false},
              "axis": {"orient": "bottom", "offset": -157, "values": [2450, 2470, 2490, 2510], "format": "d",
                "labelFontSize": 31, "labelPadding": 11, "tickSize": 10,
                "title": "Energy (eV)", "titleX": 1382, "titleY": 134, "titleAlign": "center", "titleBaseline": "alphabetic"}},
            "y": {"datum": 2.5, "type": "quantitative",
              "scale": {"domain": [0, 2.5], "range": [817, 43], "nice": false},
              "axis": {"orient": "left", "offset": -1034, "values": [0, 0.5, 1, 1.5, 2, 2.5], "format": ".1f",
                "labelFontSize": 30, "labelPadding": 5, "tickSize": 9, "title": null}},
            "text": {"value": "Black soil"}
          }
        }
      ]
    }
  ],
  "resolve": {
    "scale": {"x": "independent", "y": "independent", "color": "independent", "strokeDash": "independent"},
    "axis": {"x": "independent", "y": "independent"},
    "legend": {"color": "independent", "strokeDash": "independent"}
  }
}
